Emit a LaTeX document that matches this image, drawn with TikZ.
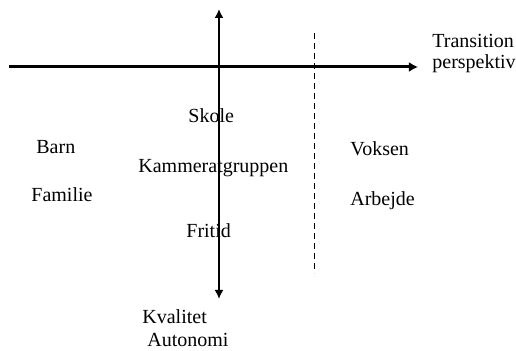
\documentclass[tikz,border=0pt]{standalone}
\usepackage{fontspec}
\setmainfont{Liberation Serif}
\usetikzlibrary{arrows.meta}

\begin{document}
\begin{tikzpicture}[
  x=0.5pt, y=-0.5pt,
  lbl/.style={inner sep=0pt,anchor=base west,font=\fontsize{10}{12}\selectfont},
  axis/.style={-{Latex[length=4.5pt,width=5pt]},line width=1.5pt},
  axis2/.style={{Latex[length=4.5pt,width=4.5pt]}-{Latex[length=4.5pt,width=4.5pt]},line width=1pt},
  split/.style={dash pattern=on 3pt off 2pt,line width=0.5pt}
]
\useasboundingbox (0,0) rectangle (516,351);
% axes
\coordinate (west) at (9,67);
\coordinate (east) at (418,67);
\coordinate (top) at (219,9);
\coordinate (bottom) at (219,299);
\coordinate (dtop) at (315,33);
\coordinate (dbot) at (315,273);
\draw[axis] (west)--(east);
\draw[axis2] (bottom)--(top);
\draw[split] (dtop)--(dbot);
% labels
\node[lbl] (trans) at (432,48) {Transition};
\node[lbl] (persp) at (432,69) {perspektiv};
\node[lbl] (skole) at (188,123) {Skole};
\node[lbl] (barn) at (36,154) {Barn};
\node[lbl] (kamm) at (138,173) {Kammeratgruppen};
\node[lbl] (fam) at (31,202) {Familie};
\node[lbl] (fritid) at (186,238) {Fritid};
\node[lbl] (voksen) at (350,156) {Voksen};
\node[lbl] (arb) at (350,206) {Arbejde};
\node[lbl] (kval) at (142,324) {Kvalitet};
\node[lbl] (auto) at (147,347) {Autonomi};
\end{tikzpicture}
\end{document}
